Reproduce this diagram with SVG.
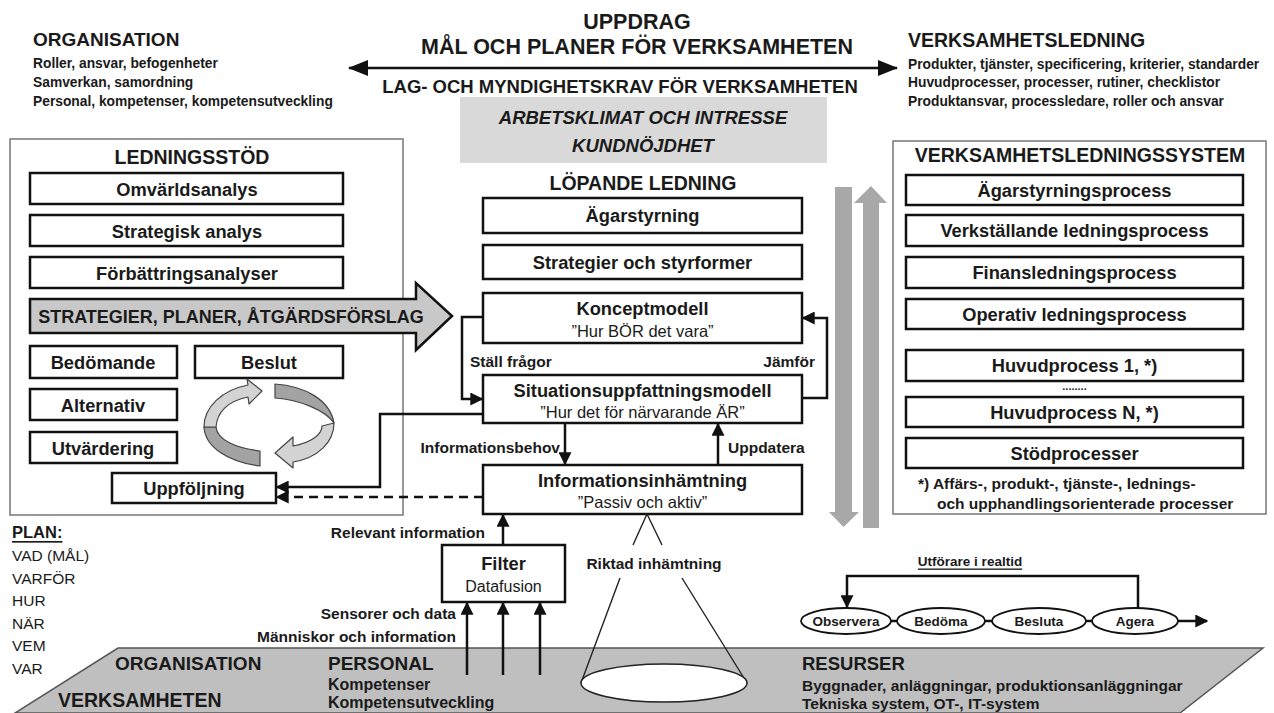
<svg xmlns="http://www.w3.org/2000/svg" width="1274" height="713" viewBox="0 0 1274 713">
<style>
.t{font-family:"Liberation Sans",Arial,sans-serif;fill:#1a1a1a;dominant-baseline:central}
.b{font-weight:bold}
.m{text-anchor:middle}
.e{text-anchor:end}
.h{font-size:19.5px;font-weight:bold}
.bl{font-size:18.3px;font-weight:bold}
.sub{font-size:16.5px}
.lb{font-size:15.5px;font-weight:bold}
.sm{font-size:13.8px;font-weight:bold}
.box{fill:#fff;stroke:#111;stroke-width:2.5}
.panel{fill:#fff;stroke:#777;stroke-width:1.5}
.ln{fill:none;stroke:#111;stroke-width:2.5}
.thin{fill:none;stroke:#222;stroke-width:1.4}
.ell{fill:#fff;stroke:#111;stroke-width:1.8}
</style>
<defs>
<marker id="ah" viewBox="0 0 10 10" refX="9" refY="5" markerWidth="13" markerHeight="13" markerUnits="userSpaceOnUse" orient="auto"><path d="M0,0 L10,5 L0,10 z" fill="#111"/></marker>
<marker id="ahb" viewBox="0 0 10 10" refX="9.5" refY="5" markerWidth="20" markerHeight="20" markerUnits="userSpaceOnUse" orient="auto-start-reverse"><path d="M0,1 L10,5 L0,9 z" fill="#111"/></marker>
</defs>
<rect width="1274" height="713" fill="#fff"/>

<g id="top-organisation">
<text class="t h" x="33" y="39" style="font-size:19px">ORGANISATION</text>
<text class="t sm" x="33" y="63">Roller, ansvar, befogenheter</text>
<text class="t sm" x="33" y="82">Samverkan, samordning</text>
<text class="t sm" x="33" y="101">Personal, kompetenser, kompetensutveckling</text>
</g>

<g id="top-uppdrag">
<text class="t b m" x="637" y="22" style="font-size:21.5px">UPPDRAG</text>
<text class="t b m" x="637" y="47" style="font-size:21.5px">MÅL OCH PLANER FÖR VERKSAMHETEN</text>
<text class="t b m" x="620" y="86" style="font-size:18.5px">LAG- OCH MYNDIGHETSKRAV FÖR VERKSAMHETEN</text>
</g>

<g id="top-verksamhetsledning">
<text class="t h" x="908" y="40">VERKSAMHETSLEDNING</text>
<text class="t sm" x="908" y="64">Produkter, tjänster, specificering,  kriterier, standarder</text>
<text class="t sm" x="908" y="82">Huvudprocesser, processer, rutiner, checklistor</text>
<text class="t sm" x="908" y="101">Produktansvar, processledare, roller och ansvar</text>
</g>

<g id="klimat">
<rect x="460" y="97" width="367" height="66" fill="#d9d9d9"/>
<text class="t b m" x="643" y="117" style="font-size:18.5px;font-style:italic">ARBETSKLIMAT OCH INTRESSE</text>
<text class="t b m" x="643" y="145" style="font-size:18.5px;font-style:italic">KUNDNÖJDHET</text>
</g>

<g id="ledningsstod">
<rect class="panel" x="10" y="139" width="393" height="376"/>
<text class="t h m" x="192" y="157">LEDNINGSSTÖD</text>
</g>
<g id="omvarldsanalys"><rect class="box" x="30" y="173" width="313" height="31"/><text class="t bl m" x="187" y="189">Omvärldsanalys</text></g>
<g id="strategisk-analys"><rect class="box" x="30" y="215" width="313" height="31"/><text class="t bl m" x="187" y="231">Strategisk analys</text></g>
<g id="forbattringsanalyser"><rect class="box" x="30" y="257" width="313" height="31"/><text class="t bl m" x="187" y="273">Förbättringsanalyser</text></g>
<g id="strategier-arrow">
<path d="M30,299 L416,299 L416,283 L452,316 L416,350 L416,333 L30,333 Z" fill="#c8c8c8" stroke="#111" stroke-width="2.5" stroke-linejoin="miter"/>
<text class="t b m" x="231" y="317" style="font-size:18px">STRATEGIER, PLANER, ÅTGÄRDSFÖRSLAG</text>
</g>
<g id="bedomande"><rect class="box" x="30" y="346" width="147" height="32"/><text class="t bl m" x="103" y="362">Bedömande</text></g>
<g id="beslut"><rect class="box" x="195" y="346" width="148" height="32"/><text class="t bl m" x="269" y="362">Beslut</text></g>
<g id="alternativ"><rect class="box" x="30" y="389" width="147" height="31"/><text class="t bl m" x="103" y="405">Alternativ</text></g>
<g id="utvardering"><rect class="box" x="30" y="432" width="147" height="31"/><text class="t bl m" x="103" y="448">Utvärdering</text></g>
<g id="uppfoljning"><rect class="box" x="112" y="473" width="164" height="30"/><text class="t bl m" x="194" y="488">Uppföljning</text></g>
<g id="cycle" stroke="#444" stroke-width="1.2" stroke-linejoin="round">
<path d="M204,427 C205,447 228,462 260,466 L260,451 C236,448 217,440 216,427 Z" fill="#a3a3a3"/>
<path d="M204,427 C204,407 222,390 248,385 L247,379 L262,391 L249,404 L248,397 C228,401 217,412 216,427 Z" fill="#d3d3d3"/>
<path d="M275,384 C305,386 330,400 334,423 C325,410 300,400 275,398 Z" fill="#a3a3a3"/>
<path d="M334,423 C334,442 318,458 293,462 L293,468 L275,453 L293,437 L293,446 C310,443 322,435 322,426 Z" fill="#d3d3d3"/>
</g>

<g id="lopande">
<text class="t h m" x="643" y="183">LÖPANDE LEDNING</text>
</g>
<g id="agarstyrning"><rect class="box" x="483" y="198" width="319" height="35"/><text class="t bl m" x="642.5" y="215.5">Ägarstyrning</text></g>
<g id="strategier-styrformer"><rect class="box" x="483" y="245" width="319" height="34"/><text class="t bl m" x="642.5" y="262">Strategier och styrformer</text></g>
<g id="konceptmodell"><rect class="box" x="483" y="293" width="319" height="50"/><text class="t bl m" x="642.5" y="308">Konceptmodell</text><text class="t sub m" x="642.5" y="331">”Hur BÖR det vara”</text></g>
<g id="situation"><rect class="box" x="483" y="375" width="319" height="48"/><text class="t bl m" x="642.5" y="390">Situationsuppfattningsmodell</text><text class="t sub m" x="642.5" y="412">”Hur det för närvarande ÄR”</text></g>
<g id="informationsinhamtning"><rect class="box" x="483" y="465" width="319" height="49"/><text class="t bl m" x="642.5" y="480">Informationsinhämtning</text><text class="t sub m" x="642.5" y="502">”Passiv och aktiv”</text></g>
<g id="filter"><rect class="box" x="442" y="545" width="123" height="57"/><text class="t bl m" x="503.5" y="563">Filter</text><text class="t m" x="503.5" y="586" style="font-size:16px">Datafusion</text></g>

<g id="verksamhetsledningssystem">
<rect class="panel" x="893" y="141" width="373" height="373"/>
<text class="t h m" x="1080" y="155">VERKSAMHETSLEDNINGSSYSTEM</text>
<text class="t lb" x="918" y="483">*) Affärs-, produkt-, tjänste-, lednings-</text>
<text class="t lb" x="937" y="503">och upphandlingsorienterade  processer</text>
<text class="t b m" x="1074.5" y="386" style="font-size:11px">........</text>
</g>
<g id="agarstyrningsprocess"><rect class="box" x="906" y="175" width="337" height="30"/><text class="t bl m" x="1074.5" y="190">Ägarstyrningsprocess</text></g>
<g id="verkstallande"><rect class="box" x="906" y="215" width="337" height="31"/><text class="t bl m" x="1074.5" y="230.5">Verkställande ledningsprocess</text></g>
<g id="finans"><rect class="box" x="906" y="257" width="337" height="31"/><text class="t bl m" x="1074.5" y="272.5">Finansledningsprocess</text></g>
<g id="operativ"><rect class="box" x="906" y="299" width="337" height="30"/><text class="t bl m" x="1074.5" y="314">Operativ ledningsprocess</text></g>
<g id="huvudprocess1"><rect class="box" x="906" y="350" width="337" height="31"/><text class="t bl m" x="1074.5" y="365.5">Huvudprocess 1, *)</text></g>
<g id="huvudprocessN"><rect class="box" x="906" y="397" width="337" height="30"/><text class="t bl m" x="1074.5" y="412">Huvudprocess N, *)</text></g>
<g id="stodprocesser"><rect class="box" x="906" y="438" width="337" height="30"/><text class="t bl m" x="1074.5" y="453">Stödprocesser</text></g>

<g id="gray-arrows" fill="#a8a8a8">
<path d="M835,187 L852,187 L852,512 L859,512 L843.5,527 L829,512 L835,512 Z"/>
<path d="M863,528 L879,528 L879,203 L887,203 L871,186 L854,203 L863,203 Z"/>
</g>

<g id="plan">
<text class="t b" x="12" y="532" style="font-size:16.5px;text-decoration:underline">PLAN:</text>
<text class="t" x="12" y="555" style="font-size:15.5px">VAD (MÅL)</text>
<text class="t" x="12" y="578" style="font-size:15.5px">VARFÖR</text>
<text class="t" x="12" y="600" style="font-size:15.5px">HUR</text>
<text class="t" x="12" y="623" style="font-size:15.5px">NÄR</text>
<text class="t" x="12" y="645" style="font-size:15.5px">VEM</text>
<text class="t" x="12" y="668" style="font-size:15.5px">VAR</text>
</g>

<g id="base">
<path d="M118,648 L1263,648 L1180,713 L15,713 Z" fill="#bfbfbf" stroke="#555" stroke-width="1.5"/>
<text class="t b" x="115" y="663" style="font-size:19px">ORGANISATION</text>
<text class="t b" x="58" y="700" style="font-size:19.5px">VERKSAMHETEN</text>
<text class="t b" x="328" y="663" style="font-size:19px">PERSONAL</text>
<text class="t b" x="328" y="684" style="font-size:16px">Kompetenser</text>
<text class="t b" x="328" y="702" style="font-size:16px">Kompetensutveckling</text>
<text class="t b" x="802" y="663" style="font-size:18.5px">RESURSER</text>
<text class="t b" x="802" y="685" style="font-size:15.5px">Byggnader, anläggningar, produktionsanläggningar</text>
<text class="t b" x="802" y="703" style="font-size:15.5px">Tekniska system, OT-, IT-system</text>
</g>

<g id="cone">
<path class="thin" d="M647,514 L633,545 M647,514 L662,545 M620,578 L581,683 M682,578 L747,683"/>
<ellipse cx="664" cy="683" rx="83" ry="19" fill="#fff" stroke="#222" stroke-width="1.5"/>
<text class="t lb m" x="654" y="563">Riktad inhämtning</text>
</g>

<g id="ooda">
<text class="t b m" x="970" y="561" style="font-size:13.5px;text-decoration:underline">Utförare i realtid</text>
<g id="observera"><ellipse class="ell" cx="846" cy="621" rx="45" ry="13"/><text class="t b m" x="846" y="621" style="font-size:13.5px">Observera</text></g>
<g id="bedoma"><ellipse class="ell" cx="941" cy="621" rx="44" ry="13"/><text class="t b m" x="941" y="621" style="font-size:13.5px">Bedöma</text></g>
<g id="besluta"><ellipse class="ell" cx="1039" cy="621" rx="47" ry="13"/><text class="t b m" x="1039" y="621" style="font-size:13.5px">Besluta</text></g>
<g id="agera"><ellipse class="ell" cx="1135" cy="621" rx="43" ry="13"/><text class="t b m" x="1135" y="621" style="font-size:13.5px">Agera</text></g>
</g>

<g id="connectors">
<line class="ln" x1="349" y1="68" x2="897" y2="68" stroke-width="3" marker-start="url(#ahb)" marker-end="url(#ahb)"/>
<path class="ln" d="M483,317 L462,317 L462,399 L482,399" marker-end="url(#ah)"/>
<path class="ln" d="M802,398 L827,398 L827,318 L803,318" marker-end="url(#ah)"/>
<path class="ln" d="M483,414 L380,414 L380,487 L277,487" marker-end="url(#ah)"/>
<line class="ln" x1="483" y1="497" x2="277" y2="497" stroke-dasharray="9 6" marker-end="url(#ah)"/>
<line class="ln" x1="565" y1="423" x2="565" y2="464" marker-end="url(#ah)"/>
<line class="ln" x1="718" y1="465" x2="718" y2="424" marker-end="url(#ah)"/>
<line class="ln" x1="503" y1="545" x2="503" y2="515" marker-end="url(#ah)"/>
<line class="ln" x1="467" y1="675" x2="467" y2="603" marker-end="url(#ah)"/>
<line class="ln" x1="503" y1="675" x2="503" y2="603" marker-end="url(#ah)"/>
<line class="ln" x1="540" y1="675" x2="540" y2="603" marker-end="url(#ah)"/>
<path class="ln" d="M1138,608 L1138,576 L847,576 L847,607" stroke-width="2" marker-end="url(#ah)"/>
<path class="ln" d="M891,621 L897,621 M985,621 L992,621 M1086,621 L1092,621" stroke-width="3"/>
<line class="ln" x1="1178" y1="621" x2="1207" y2="621" marker-end="url(#ah)"/>
<text class="t lb" x="470" y="361">Ställ frågor</text>
<text class="t lb e" x="815" y="361">Jämför</text>
<text class="t lb e" x="560" y="447">Informationsbehov</text>
<text class="t lb" x="728" y="447">Uppdatera</text>
<text class="t lb e" x="485" y="532">Relevant information</text>
<text class="t lb e" x="456" y="613">Sensorer och data</text>
<text class="t lb e" x="456" y="636">Människor  och information</text>
</g>
</svg>
